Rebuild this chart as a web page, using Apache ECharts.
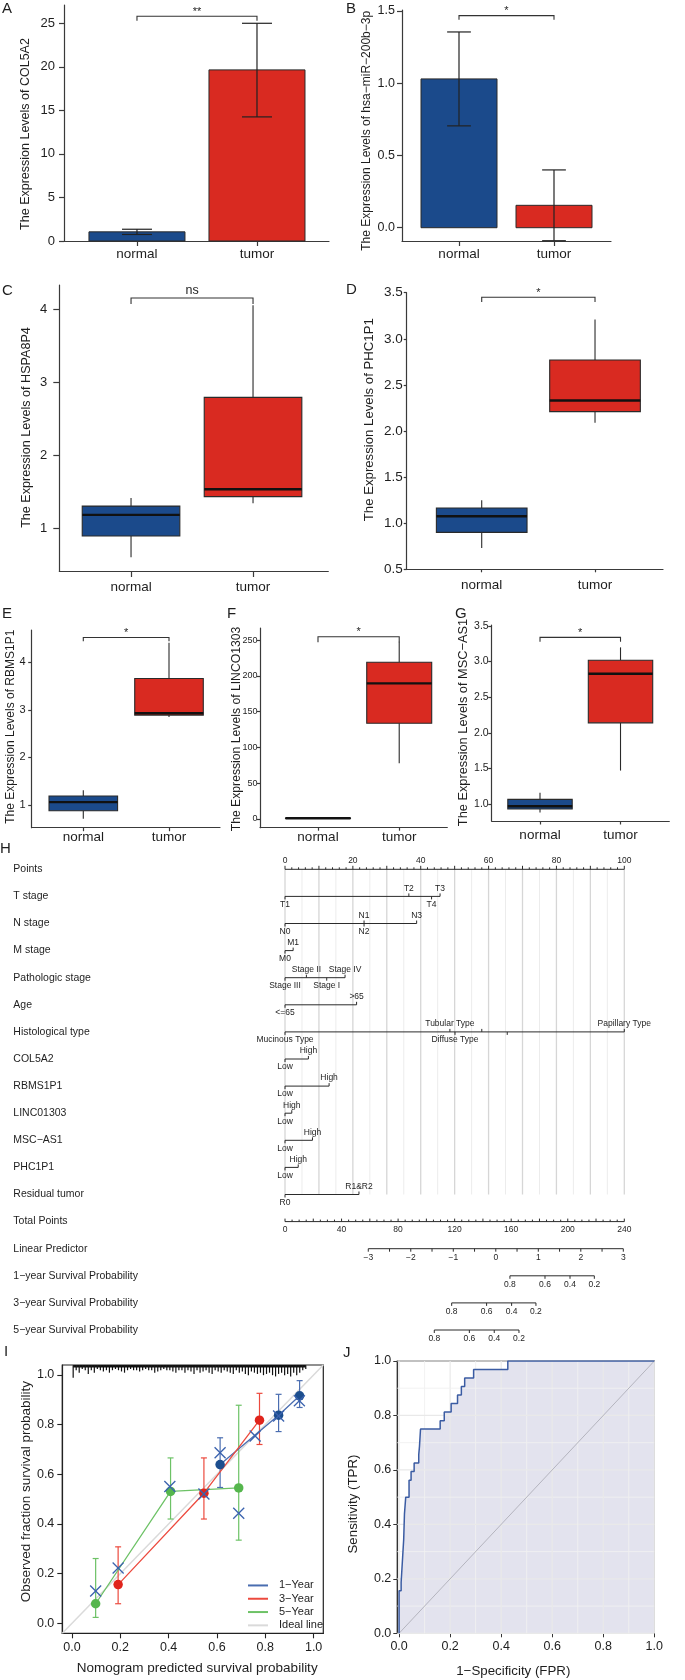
<!DOCTYPE html>
<html><head><meta charset="utf-8">
<script src="https://cdn.jsdelivr.net/npm/echarts@6/dist/echarts.min.js"></script>
<style>html,body{margin:0;padding:0;background:#fff}#c{width:685px;height:1680px}</style>
</head><body><div id="c"></div>
<script>
// ================= DATA =================
const groups = ['normal', 'tumor'];
// A: COL5A2 bar (mean) with error bar
const col5a2Mean = [1.05, 19.65];
const col5a2ErrLo = [0.75, 14.25];
const col5a2ErrHi = [1.35, 25.0];
const col5a2Ticks = [0, 5, 10, 15, 20, 25];
// B: hsa-miR-200b-3p
const mirMean = [1.03, 0.155];
const mirErrLo = [0.705, -0.09];
const mirErrHi = [1.355, 0.40];
const mirTicks = [0, 0.5, 1.0, 1.5];
// C-G box statistics [min, q1, median, q3, max]
const hspa8p4Normal = [0.60, 0.89, 1.18, 1.30, 1.41];
const hspa8p4Tumor  = [1.34, 1.43, 1.53, 2.79, 4.05];
const hspa8p4Ticks  = [1, 2, 3, 4];
const phc1p1Normal = [0.73, 0.90, 1.075, 1.165, 1.25];
const phc1p1Tumor  = [2.09, 2.21, 2.33, 2.77, 3.21];
const phc1p1Ticks  = [0.5, 1.0, 1.5, 2.0, 2.5, 3.0, 3.5];
const rbms1p1Normal = [0.71, 0.88, 1.06, 1.19, 1.31];
const rbms1p1Tumor  = [2.85, 2.89, 2.93, 3.66, 4.41];
const rbms1p1Ticks  = [1, 2, 3, 4];
const linc01303Normal = [0.3, 0.6, 1.0, 1.4, 1.8];
const linc01303Tumor  = [77.8, 133.7, 189.5, 219, 247.6];
const linc01303Ticks  = [0, 50, 100, 150, 200, 250];
const mscAs1Normal = [0.88, 0.93, 0.97, 1.065, 1.16];
const mscAs1Tumor  = [1.47, 2.14, 2.83, 3.02, 3.20];
const mscAs1Ticks  = [1.0, 1.5, 2.0, 2.5, 3.0, 3.5];
// significance brackets A..G: [bracket height, leg end] and labels
const sigLabels  = ['**', '*', 'ns', '*', '*', '*', '*'];
const sigHeights = [[25.8, 25.3], [1.468, 1.44], [4.15, 4.07], [3.45, 3.40], [4.52, 4.44], [254.6, 247], [3.34, 3.28]];

// H: nomogram
const nomoRows = ['Points', 'T stage', 'N stage', 'M stage', 'Pathologic stage', 'Age', 'Histological type',
  'COL5A2', 'RBMS1P1', 'LINC01303', 'MSC\u2212AS1', 'PHC1P1', 'Residual tumor', 'Total Points', 'Linear Predictor',
  '1\u2212year Survival Probability', '3\u2212year Survival Probability', '5\u2212year Survival Probability'];
const pointLabels = [0, 20, 40, 60, 80, 100];
const tStage = [['T1', 0], ['T2', 36.5], ['T4', 43.2], ['T3', 45.7]];
const nStage = [['N0', 0], ['N1', 23.3], ['N2', 23.3], ['N3', 38.8]];
const mStage = [['M0', 0], ['M1', 2.4]];
const pathStage = [['Stage III', 0], ['Stage II', 6.3], ['Stage I', 12.3], ['Stage IV', 17.7]];
const ageGroup = [['<=65', 0], ['>65', 21.1]];
const histType = [['Mucinous Type', 0], ['Tubular Type', 48.6], ['Diffuse Type', 50.1], ['', 58.0], ['', 65.5], ['Papillary Type', 100]];
const col5a2Pts = [['Low', 0], ['High', 6.9]];
const rbms1p1Pts = [['Low', 0], ['High', 13.0]];
const linc01303Pts = [['Low', 0], ['High', 2.0]];
const mscAs1Pts = [['Low', 0], ['High', 8.1]];
const phc1p1Pts = [['Low', 0], ['High', 3.9]];
const residualPts = [['R0', 0], ['R1&R2', 21.8]];
const totalPointsMax = 240;
const totalPointsLabels = [0, 40, 80, 120, 160, 200, 240];
const linearPredictorLabels = [-3, -2, -1, 0, 1, 2, 3];
const linearPredictorAtTotal = [[-3, 58.9], [3, 239.3]];   // LP value ↔ total points
const surv1y = [[0.8, 159.1], [0.6, 183.9], [0.4, 201.6], [0.2, 218.8]]; // [probability, total points]
const surv3y = [[0.8, 117.9], [0.6, 142.6], [0.4, 160.3], [0.2, 177.5]];
const surv5y = [[0.8, 105.6], [0.6, 130.4], [0.4, 148.0], [0.2, 165.5]];

// I: calibration
const cal1yX = [0.613, 0.855, 0.942], cal1yY = [0.639, 0.838, 0.916], cal1yLo = [0.547, 0.772, 0.869], cal1yHi = [0.747, 0.922, 0.977];
const cal3yX = [0.191, 0.546, 0.776], cal3yY = [0.156, 0.524, 0.818], cal3yLo = [0.079, 0.420, 0.720], cal3yHi = [0.308, 0.666, 0.926];
const cal5yX = [0.098, 0.408, 0.690], cal5yY = [0.079, 0.531, 0.545], cal5yLo = [0.024, 0.420, 0.335], cal5yHi = [0.261, 0.666, 0.878];
const biasX = [0.098, 0.191, 0.405, 0.546, 0.613, 0.690, 0.758, 0.855, 0.941];
const biasY = [0.130, 0.223, 0.551, 0.521, 0.687, 0.443, 0.754, 0.835, 0.896];
const calTicks = [0, 0.2, 0.4, 0.6, 0.8, 1.0];
// rug of predicted probabilities (bin start, bin width, spike lengths)
const rugStart = 0.005, rugStep = 0.0125;
const rugLen = [0.05,0.02,0.03,0.015,0.02,0.035,0.02,0.03,0.015,0.02,0.025,0.02,0.03,0.02,0.015,0.02,0.025,0.03,0.02,0.015,
  0.02,0.02,0.025,0.02,0.015,0.02,0.02,0.03,0.025,0.02,0.015,0.02,0.02,0.025,0.03,0.02,0.02,0.03,0.02,0.025,
  0.035,0.02,0.03,0.025,0.02,0.03,0.035,0.02,0.025,0.03,0.02,0.025,0.03,0.035,0.02,0.03,0.025,0.035,0.04,0.025,
  0.03,0.035,0.03,0.04,0.035,0.03,0.04,0.045,0.035,0.03,0.04,0.035,0.045,0.03,0.04,0.03,0.02,0.015];

// J: ROC
const rocFpr = [0, 0, 0.008, 0.014, 0.018, 0.021, 0.026, 0.039, 0.047, 0.059, 0.077, 0.080, 0.084, 0.161, 0.177, 0.204, 0.229, 0.244, 0.257, 0.292, 0.426, 1.0];
const rocTpr = [0, 0.156, 0.1875, 0.281, 0.344, 0.4375, 0.5, 0.5625, 0.594, 0.625, 0.656, 0.6875, 0.75, 0.781, 0.8125, 0.844, 0.875, 0.906, 0.9375, 0.969, 1.0, 1.0];
const rocTicks = [0, 0.2, 0.4, 0.6, 0.8, 1.0];
const rocGrid = [0, 0.1, 0.2, 0.3, 0.4, 0.5, 0.6, 0.7, 0.8, 0.9, 1.0];
const rocText = ['COL5A2', 'AUC: 0.917', 'CI: 0.877\u22120.957'];

// ================= STYLE / LAYOUT =================
const FONT = 'Liberation Sans';
const INK = '#1e1e1e', AX = '#3a3a3a';
const NORMAL = '#1B4A8B', TUMOR = '#D92A21';
const C1 = '#1C4E8E', C1L = '#4A6DB0', C3 = '#E0241C', C3L = '#EC4A3E', C5 = '#55B64D', C5L = '#6DC266', IDEAL = '#DADADA';

const panels = [
  {key:'A', kind:'bar', mean:col5a2Mean, lo:col5a2ErrLo, hi:col5a2ErrHi, ticks:col5a2Ticks, dec:0, title:'The Expression Levels of COL5A2',
   left:64, right:329, top:5, bottom:241, xmin:0.392, xmax:2.6, ymin:0, ymax:27.1, tx:25.8, ty:134, tfs:12.5, lx:2, ly:1, cap:0.25,
   yfs:13, ym:9, tl:5, xm:6},
  {key:'B', kind:'bar', mean:mirMean, lo:mirErrLo, hi:mirErrHi, ticks:mirTicks, dec:1, title:'The Expression Levels of hsa\u2212miR\u2212200b\u22123p',
   left:402, right:611, top:10, bottom:241, xmin:0.4, xmax:2.6, ymin:-0.092, ymax:1.507, tx:366.7, ty:130.8, tfs:12, lx:346, ly:1, cap:0.25,
   yfs:12.5, ym:7, tl:5, xm:6},
  {key:'C', kind:'box', normal:hspa8p4Normal, tumor:hspa8p4Tumor, ticks:hspa8p4Ticks, dec:0, title:'The Expression Levels of HSPA8P4',
   left:59.3, right:328.3, top:285, bottom:571, xmin:0.412, xmax:2.617, ymin:0.411, ymax:4.329, tx:26.2, ty:427.5, tfs:12.6, lx:2, ly:283,
   yfs:13, ym:12, tl:6, xm:9},
  {key:'D', kind:'box', normal:phc1p1Normal, tumor:phc1p1Tumor, ticks:phc1p1Ticks, dec:1, title:'The Expression Levels of PHC1P1',
   left:406.7, right:663, top:292.7, bottom:569.3, xmin:0.338, xmax:2.6, ymin:0.5, ymax:3.5, tx:369.5, ty:419.7, tfs:13.2, lx:346, ly:282,
   yfs:13.5, ym:4, tl:3, xm:9},
  {key:'E', kind:'box', normal:rbms1p1Normal, tumor:rbms1p1Tumor, ticks:rbms1p1Ticks, dec:0, title:'The Expression Levels of RBMS1P1',
   left:31.7, right:220, top:630, bottom:827.7, xmin:0.398, xmax:2.595, ymin:0.523, ymax:4.679, tx:10.5, ty:726.7, tfs:12, lx:2, ly:606,
   yfs:11, ym:6, tl:3.5, xm:3},
  {key:'F', kind:'box', normal:linc01303Normal, tumor:linc01303Tumor, ticks:linc01303Ticks, dec:0, title:'The Expression Levels of LINCO1303',
   left:260, right:447.3, top:628, bottom:827.7, xmin:0.286, xmax:2.592, ymin:-12.2, ymax:266.8, tx:236.3, ty:729, tfs:12.2, lx:227, ly:606,
   yfs:9, ym:2.5, tl:3, xm:3},
  {key:'G', kind:'box', normal:mscAs1Normal, tumor:mscAs1Tumor, ticks:mscAs1Ticks, dec:1, title:'The Expression Levels of MSC\u2212AS1',
   left:491.7, right:669.3, top:625, bottom:821, xmin:0.4, xmax:2.606, ymin:0.762, ymax:3.514, tx:463, ty:722.5, tfs:12.8, lx:455, ly:606,
   yfs:10.5, ym:3, tl:3.5, xm:7}
];

const option = {
  animation: false,
  backgroundColor: '#fff',
  textStyle: {fontFamily: FONT},
  grid: [], xAxis: [], yAxis: [], series: [], graphic: []
};

function gtext(text, x, y, fs, extra) {
  return Object.assign({type:'text', x:x, y:y, silent:true,
    style:Object.assign({text:text, fontSize:fs, fontFamily:FONT, fill:INK}, (extra && extra.style) || {})},
    extra ? {rotation: extra.rotation || 0} : {});
}

panels.forEach((p, k) => {
  option.grid.push({left:p.left, top:p.top, width:p.right - p.left, height:p.bottom - p.top, containLabel:false});
  option.xAxis.push({gridIndex:k, type:'value', min:p.xmin, max:p.xmax,
    axisLine:{show:true, onZero:false, lineStyle:{color:AX, width:1.2}},
    axisTick:{show:true, customValues:[1, 2], length:p.tl, lineStyle:{color:AX, width:1.2}},
    axisLabel:{customValues:[1, 2], formatter:v => groups[Math.round(v) - 1], fontSize:13.5, color:INK, margin:p.xm},
    splitLine:{show:false}});
  option.yAxis.push({gridIndex:k, type:'value', min:p.ymin, max:p.ymax,
    axisLine:{show:true, onZero:false, lineStyle:{color:AX, width:1.2}},
    axisTick:{show:true, customValues:p.ticks, length:p.tl, lineStyle:{color:AX, width:1.2}},
    axisLabel:{customValues:p.ticks, formatter:v => v.toFixed(p.dec), fontSize:p.yfs, color:INK, margin:p.ym},
    splitLine:{show:false}});
  if (p.kind === 'bar') {
    option.series.push({type:'custom', xAxisIndex:k, yAxisIndex:k, clip:false, z:2, silent:true,
      data:[0, 1].map(g => [g + 1, p.mean[g], p.lo[g], p.hi[g], g]),
      encode:{x:0, y:[1, 2, 3]},
      renderItem:(params, api) => {
        const x = api.value(0), m = api.value(1), lo = api.value(2), hi = api.value(3), g = api.value(4);
        const tl = api.coord([x - 0.4, m]), br = api.coord([x + 0.4, 0]);
        const a = api.coord([x, lo]), b = api.coord([x, hi]);
        const cw = api.size([p.cap, 0])[0] / 2;
        const ls = {stroke:'#222', lineWidth:1.2};
        return {type:'group', children:[
          {type:'rect', shape:{x:tl[0], y:tl[1], width:br[0] - tl[0], height:br[1] - tl[1]}, style:{fill:g ? TUMOR : NORMAL, stroke:'#2a2a2a', lineWidth:1}},
          {type:'line', shape:{x1:a[0], y1:a[1], x2:b[0], y2:b[1]}, style:ls},
          {type:'line', shape:{x1:a[0] - cw, y1:a[1], x2:a[0] + cw, y2:a[1]}, style:ls},
          {type:'line', shape:{x1:b[0] - cw, y1:b[1], x2:b[0] + cw, y2:b[1]}, style:ls}
        ]};
      }});
  } else {
    option.series.push({type:'custom', xAxisIndex:k, yAxisIndex:k, clip:false, z:2, silent:true,
      data:[[1].concat(p.normal, [0]), [2].concat(p.tumor, [1])],
      encode:{x:0, y:[1, 2, 3, 4, 5]},
      renderItem:(params, api) => {
        const x = api.value(0), g = api.value(6);
        const c = i => api.coord([x, api.value(i)]);
        const pMin = c(1), pQ1 = c(2), pMed = c(3), pQ3 = c(4), pMax = c(5);
        const w = api.size([0.8, 0])[0];
        const ls = {stroke:'#2a2a2a', lineWidth:1.1};
        return {type:'group', children:[
          {type:'line', shape:{x1:pMin[0], y1:pMin[1], x2:pQ1[0], y2:pQ1[1]}, style:ls},
          {type:'line', shape:{x1:pQ3[0], y1:pQ3[1], x2:pMax[0], y2:pMax[1]}, style:ls},
          {type:'rect', shape:{x:pQ1[0] - w / 2, y:pQ3[1], width:w, height:pQ1[1] - pQ3[1]}, style:{fill:g ? TUMOR : NORMAL, stroke:'#2a2a2a', lineWidth:1.1}},
          {type:'line', shape:{x1:pMed[0] - w / 2, y1:pMed[1], x2:pMed[0] + w / 2, y2:pMed[1]}, style:{stroke:'#111', lineWidth:2.4}}
        ]};
      }});
  }
  // significance bracket
  option.series.push({type:'custom', xAxisIndex:k, yAxisIndex:k, clip:false, z:3, silent:true,
    data:[[1, 2, sigHeights[k][0], sigHeights[k][1]]],
    encode:{x:[0, 1], y:[2, 3]},
    renderItem:(params, api) => {
      const x1 = api.value(0), x2 = api.value(1), t = api.value(2), e = api.value(3);
      const a = api.coord([x1, e]), b = api.coord([x1, t]), c = api.coord([x2, t]), d = api.coord([x2, e]);
      const lab = sigLabels[k];
      return {type:'group', children:[
        {type:'polyline', shape:{points:[a, b, c, d]}, style:{stroke:'#333', lineWidth:1.1, fill:null}},
        {type:'text', style:{text:lab, x:(b[0] + c[0]) / 2, y:b[1] - (lab === 'ns' ? 1 : -1), align:'center', verticalAlign:'bottom',
          fontSize:lab === 'ns' ? 12.5 : 11, fontFamily:FONT, fill:INK}}
      ]};
    }});
  option.graphic.push(gtext(p.title, p.tx, p.ty, p.tfs, {rotation:Math.PI / 2, style:{align:'center', verticalAlign:'middle'}}));
  option.graphic.push(gtext(p.key, p.lx, p.ly, 15, {style:{align:'left', verticalAlign:'top'}}));
});

// ================= H: NOMOGRAM =================
const HG = option.grid.length;
option.grid.push({left:285, top:855.75, width:339.3, height:487.8, containLabel:false});
option.xAxis.push({gridIndex:HG, type:'value', min:0, max:100, show:false});
option.yAxis.push({gridIndex:HG, type:'category', data:nomoRows, inverse:true,
  axisLine:{show:false}, axisTick:{show:false}, splitLine:{show:false},
  axisLabel:{interval:0, align:'left', margin:271.7, fontSize:10.5, color:INK}});
const predictorLevels = [tStage, nStage, mStage, pathStage, ageGroup, histType, col5a2Pts, rbms1p1Pts, linc01303Pts, mscAs1Pts, phc1p1Pts, residualPts];
const tpToPts = tp => tp * 100 / totalPointsMax;
const lpToTp = lp => linearPredictorAtTotal[0][1] + (lp - linearPredictorAtTotal[0][0]) *
  (linearPredictorAtTotal[1][1] - linearPredictorAtTotal[0][1]) / (linearPredictorAtTotal[1][0] - linearPredictorAtTotal[0][0]);
const NI = '#2b2b2b';
const minus = s => String(s).replace('-', '\u2212');
// vertical grid lines
const gridPts = [];
for (let v = 0; v <= 100; v += 5) gridPts.push(v);
option.series.push({type:'custom', xAxisIndex:HG, yAxisIndex:HG, clip:false, z:1, silent:true,
  data:gridPts.map(v => [v, 0]), encode:{x:0, y:1},
  renderItem:(params, api) => {
    const v = api.value(0);
    const a = api.coord([v, 0]), b = api.coord([v, predictorLevels.length]);
    const major = v % 10 === 0;
    return {type:'line', shape:{x1:a[0], y1:a[1], x2:b[0], y2:b[1]}, style:{stroke:major ? '#D6D6D6' : '#ECECEC', lineWidth:major ? 1.3 : 1}};
  }});
option.series.push({type:'custom', xAxisIndex:HG, yAxisIndex:HG, clip:false, z:3, silent:true,
  data:nomoRows.map((r, i) => [0, i]), encode:{x:0, y:1},
  renderItem:(params, api) => {
    const i = params.dataIndex;
    const y = api.coord([0, i])[1];
    const X = pt => api.coord([pt, i])[0];
    const ch = [];
    const L = (x1, y1, x2, y2) => ch.push({type:'line', shape:{x1, y1, x2, y2}, style:{stroke:NI, lineWidth:1}});
    const T = (t, x, yy, va) => ch.push({type:'text', style:{text:t, x:x, y:yy, align:'center', verticalAlign:va, fontSize:8.5, fontFamily:FONT, fill:INK}});
    if (i === 0) {
      L(X(0), y, X(100), y);
      for (let v = 0; v <= 100; v += 2) L(X(v), y, X(v), y - (v % 10 === 0 ? 3.5 : 2));
      pointLabels.forEach(v => T(String(v), X(v), y - 4, 'bottom'));
    } else if (i <= predictorLevels.length) {
      const lv = predictorLevels[i - 1].map((l, k) => ({name:l[0], p:l[1], k:k})).sort((a, b) => a.p - b.p || a.k - b.k);
      L(X(lv[0].p), y, X(lv[lv.length - 1].p), y);
      lv.forEach((s, j) => {
        const up = j % 2 === 1;
        L(X(s.p), y, X(s.p), up ? y - 3 : y + 3);
        if (s.name) T(s.name, X(s.p), up ? y - 3.5 : y + 3.5, up ? 'bottom' : 'top');
      });
    } else if (i === 13) {
      L(X(0), y, X(100), y);
      for (let v = 0; v <= totalPointsMax; v += 5) L(X(tpToPts(v)), y, X(tpToPts(v)), y - (v % 20 === 0 ? 3 : 2));
      totalPointsLabels.forEach(v => T(String(v), X(tpToPts(v)), y + 4, 'top'));
    } else if (i === 14) {
      const lo = linearPredictorLabels[0], hi = linearPredictorLabels[linearPredictorLabels.length - 1];
      L(X(tpToPts(lpToTp(lo))), y, X(tpToPts(lpToTp(hi))), y);
      for (let v = lo; v <= hi + 1e-9; v += 0.5) L(X(tpToPts(lpToTp(v))), y, X(tpToPts(lpToTp(v))), y + 3);
      linearPredictorLabels.forEach(v => T(minus(v), X(tpToPts(lpToTp(v))), y + 4, 'top'));
    } else {
      const s = [surv1y, surv3y, surv5y][i - 15];
      L(X(tpToPts(s[0][1])), y, X(tpToPts(s[s.length - 1][1])), y);
      s.forEach(d => { const x = X(tpToPts(d[1])); L(x, y, x, y + 3); T(d[0].toFixed(1), x, y + 4, 'top'); });
    }
    return {type:'group', children:ch};
  }});
option.graphic.push(gtext('H', 0, 841, 15, {style:{align:'left', verticalAlign:'top'}}));

// ================= I: CALIBRATION =================
const IG = option.grid.length;
option.grid.push({left:62.3, top:1365, width:261, height:268.3, containLabel:false, show:true, borderColor:'#222', borderWidth:1.2, backgroundColor:'#fff'});
const calAxis = (isX) => ({gridIndex:IG, type:'value', min:-0.04, max:1.04,
  axisLine:{show:true, onZero:false, lineStyle:{color:'#222', width:1.2}},
  axisTick:{show:true, customValues:calTicks, length:5, lineStyle:{color:'#222', width:1.1}},
  axisLabel:{customValues:calTicks, formatter:v => v.toFixed(1), fontSize:12.5, color:INK, margin:8},
  splitLine:{show:false}});
option.xAxis.push(calAxis(true));
option.yAxis.push(calAxis(false));
option.series.push({type:'line', name:'Ideal line', xAxisIndex:IG, yAxisIndex:IG, data:[[-0.04, -0.04], [1.04, 1.04]],
  symbol:'none', lineStyle:{color:IDEAL, width:1.5}, itemStyle:{color:IDEAL}, z:1, silent:true});
// rug (spikes hanging from the top; a thin band marks the common base)
option.series.push({type:'custom', xAxisIndex:IG, yAxisIndex:IG, clip:false, z:2, silent:true,
  data:rugLen.map((h, k) => [rugStart + k * rugStep, h]), encode:{x:0, y:1},
  renderItem:(params, api) => {
    const x = api.value(0), h = api.value(1);
    const a = api.coord([x, 1.039]), b = api.coord([x, 1.039 - h]);
    const ch = [{type:'line', shape:{x1:a[0], y1:a[1], x2:b[0], y2:b[1]}, style:{stroke:'#111', lineWidth:1.2}}];
    if (params.dataIndex < rugLen.length - 1) {
      const n = api.coord([x + rugStep, 1.039]);
      ch.push({type:'line', shape:{x1:a[0], y1:a[1] + 1, x2:n[0], y2:n[1] + 1}, style:{stroke:'#111', lineWidth:2.5}});
    }
    return {type:'group', children:ch};
  }});
const calSets = [
  {name:'1\u2212Year', x:cal1yX, y:cal1yY, lo:cal1yLo, hi:cal1yHi, c:C1, cl:C1L},
  {name:'3\u2212Year', x:cal3yX, y:cal3yY, lo:cal3yLo, hi:cal3yHi, c:C3, cl:C3L},
  {name:'5\u2212Year', x:cal5yX, y:cal5yY, lo:cal5yLo, hi:cal5yHi, c:C5, cl:C5L}
];
calSets.forEach(s => {
  option.series.push({type:'custom', xAxisIndex:IG, yAxisIndex:IG, clip:false, z:3, silent:true,
    data:s.x.map((x, k) => [x, s.lo[k], s.hi[k]]), encode:{x:0, y:[1, 2]},
    renderItem:(params, api) => {
      const x = api.value(0);
      const a = api.coord([x, api.value(1)]), b = api.coord([x, api.value(2)]);
      const st = {stroke:s.cl, lineWidth:1.2};
      return {type:'group', children:[
        {type:'line', shape:{x1:a[0], y1:a[1], x2:b[0], y2:b[1]}, style:st},
        {type:'line', shape:{x1:a[0] - 3, y1:a[1], x2:a[0] + 3, y2:a[1]}, style:st},
        {type:'line', shape:{x1:b[0] - 3, y1:b[1], x2:b[0] + 3, y2:b[1]}, style:st}
      ]};
    }});
  option.series.push({type:'line', name:s.name, xAxisIndex:IG, yAxisIndex:IG, data:s.x.map((x, k) => [x, s.y[k]]),
    symbol:'circle', symbolSize:9.5, itemStyle:{color:s.c}, lineStyle:{color:s.cl, width:1.3}, z:4, silent:true});
});
option.series.push({type:'custom', xAxisIndex:IG, yAxisIndex:IG, clip:false, z:5, silent:true,
  data:biasX.map((x, k) => [x, biasY[k]]), encode:{x:0, y:1},
  renderItem:(params, api) => {
    const p = api.coord([api.value(0), api.value(1)]), r = 5.5;
    const st = {stroke:'#3A62AE', lineWidth:1.3};
    return {type:'group', children:[
      {type:'line', shape:{x1:p[0] - r, y1:p[1] - r, x2:p[0] + r, y2:p[1] + r}, style:st},
      {type:'line', shape:{x1:p[0] - r, y1:p[1] + r, x2:p[0] + r, y2:p[1] - r}, style:st}
    ]};
  }});
option.legend = {orient:'vertical', left:243, top:1573.8, itemWidth:20, itemHeight:2, itemGap:0, icon:'rect', selectedMode:false,
  textStyle:{fontSize:11, fontFamily:FONT, color:INK, lineHeight:13.3, padding:[0, 0, 0, 6]},
  data:[{name:'1\u2212Year', itemStyle:{color:C1L}}, {name:'3\u2212Year', itemStyle:{color:C3L}},
        {name:'5\u2212Year', itemStyle:{color:C5L}}, {name:'Ideal line', itemStyle:{color:IDEAL}}]};
option.graphic.push(gtext('Observed fraction survival probability', 26.7, 1491.7, 13.5, {rotation:Math.PI / 2, style:{align:'center', verticalAlign:'middle'}}));
option.graphic.push(gtext('Nomogram predicted survival probability', 197.2, 1668.3, 13.5, {style:{align:'center', verticalAlign:'middle'}}));
option.graphic.push(gtext('I', 4, 1344, 15, {style:{align:'left', verticalAlign:'top'}}));

// ================= J: ROC =================
const JG = option.grid.length;
option.grid.push({left:397.3, top:1361, width:257, height:272.3, containLabel:false, show:true, borderColor:'#333', borderWidth:1.2, backgroundColor:'#fff'});
const rocAxis = (isX) => ({gridIndex:JG, type:'value', min:isX ? -0.007 : 0, max:1,
  axisLine:{show:true, onZero:false, lineStyle:{color:'#333', width:1.2}},
  axisTick:{show:true, customValues:rocTicks, length:4, lineStyle:{color:'#333'}},
  axisLabel:{customValues:rocTicks, formatter:v => v.toFixed(1), fontSize:12.5, color:INK, margin:isX ? 7 : 6},
  splitLine:{show:false}});
option.xAxis.push(rocAxis(true));
option.yAxis.push(rocAxis(false));
option.series.push({type:'line', name:'ROC area', xAxisIndex:JG, yAxisIndex:JG, data:rocFpr.map((f, k) => [f, rocTpr[k]]),
  step:'end', symbol:'none', lineStyle:{width:0}, areaStyle:{color:'#E3E3EE', opacity:1}, z:1, silent:true});
option.series.push({type:'custom', xAxisIndex:JG, yAxisIndex:JG, clip:false, z:2, silent:true,
  data:rocGrid.map(v => [v, v]), encode:{x:0, y:1},
  renderItem:(params, api) => {
    const v = api.value(0);
    const major = Math.abs(v * 10 % 2) < 1e-6;
    const st = {stroke:major ? '#E9E9E9' : '#F0F0F0', lineWidth:major ? 1.2 : 0.9};
    const a = api.coord([v, 0]), b = api.coord([v, 1]), c = api.coord([-0.007, v]), d = api.coord([1, v]);
    return {type:'group', children:[
      {type:'line', shape:{x1:a[0], y1:a[1], x2:b[0], y2:b[1]}, style:st},
      {type:'line', shape:{x1:c[0], y1:c[1], x2:d[0], y2:d[1]}, style:st}
    ]};
  }});
option.series.push({type:'line', name:'diag', xAxisIndex:JG, yAxisIndex:JG, data:[[0, 0], [1, 1]], symbol:'none',
  lineStyle:{color:'#B4B4BE', width:1}, z:3, silent:true});
option.series.push({type:'line', name:'COL5A2 ROC', xAxisIndex:JG, yAxisIndex:JG, data:rocFpr.map((f, k) => [f, rocTpr[k]]),
  step:'end', symbol:'none', lineStyle:{color:'#3B5CA3', width:1.5}, z:4, silent:true});
rocText.forEach((t, k) => option.graphic.push(gtext(t, 648.3, 1588.3 + k * 16.7, 11.5, {style:{align:'right', verticalAlign:'middle'}})));
option.graphic.push(gtext('Sensitivity (TPR)', 353.3, 1504, 13.3, {rotation:Math.PI / 2, style:{align:'center', verticalAlign:'middle'}}));
option.graphic.push(gtext('1\u2212Specificity (FPR)', 513.3, 1671.7, 13.3, {style:{align:'center', verticalAlign:'middle'}}));
option.graphic.push(gtext('J', 343, 1345, 15, {style:{align:'left', verticalAlign:'top'}}));

const chart = echarts.init(document.getElementById('c'), null, {renderer:'canvas', width:685, height:1680});
chart.setOption(option);
</script>
</body></html>
